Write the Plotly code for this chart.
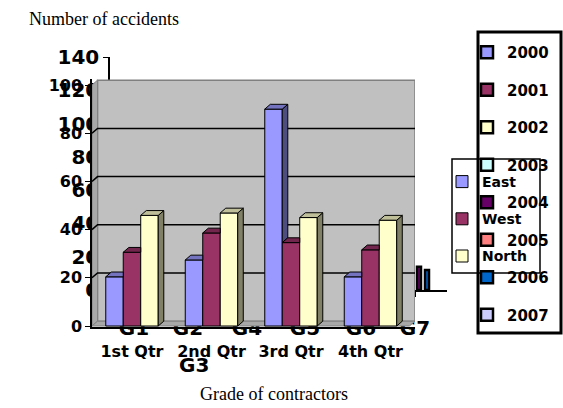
import plotly.graph_objects as go

# ---------------- data ----------------
quarters = ["1st Qtr", "2nd Qtr", "3rd Qtr", "4th Qtr"]
east = [20.4, 27.4, 90, 20.4]
west = [30.6, 38.6, 34.6, 31.6]
north = [45.9, 46.9, 45, 43.9]
series_names = ["East", "West", "North"]
series_values = [east, west, north]
series_colors = ["#9999FF", "#993366", "#FFFFCC"]
side_colors = ["#4D4D80", "#4D1933", "#808066"]
top_colors = ["#7373BF", "#73264D", "#BFBF99"]
qtr_ticks = [0, 20, 40, 60, 80, 100]

grades = ["G1", "G2", "G3", "G4", "G5", "G6", "G7"]
accident_ticks = [0, 20, 40, 60, 80, 100, 120, 140]
years = ["2000", "2001", "2002", "2003", "2004", "2005", "2006", "2007"]
year_colors = ["#9999FF", "#993366", "#FFFFCC", "#CCFFFF",
               "#660066", "#FF8080", "#0066CC", "#CCCCFF"]
# only the G7 group of the hidden chart peeks out; others hidden
year_g7 = [None, None, None, None, 14, None, 12, None]

# ---------------- layout helpers (pixels of the 563x408 page) ----------------
W, H = 563, 408
FONT_B = "DejaVu Sans"
grade_px = [134, 188, 194, 247, 305, 361, 415]   # label centres (G3 drops a line)

fig = go.Figure()

# ---- hidden "accidents" chart (background subplot x/y) ----
g7 = grade_px[6]
bw = 4
for i, (yr, col, v) in enumerate(zip(years, year_colors, year_g7)):
    fig.add_trace(go.Bar(
        x=[g7], y=[v], name=yr, width=bw, offset=-14 + bw * i,
        marker=dict(color=col, line=dict(color="black", width=2.5)),
        xaxis="x", yaxis="y", legend="legend2", legendgroup=yr,
        hoverinfo="skip"))

# ---- foreground 3-D column chart (x2/y2) ----
bar_w = 0.22
dx, dy = 0.07, 2.0
for i, (name, vals, col) in enumerate(zip(series_names, series_values, series_colors)):
    fig.add_trace(go.Bar(
        x=list(range(len(quarters))), y=vals, name=name,
        width=bar_w, offset=(i - 1.5) * bar_w,
        marker=dict(color=col, line=dict(color="black", width=1)),
        xaxis="x2", yaxis="y2", legend="legend", legendgroup=name,
        hoverinfo="skip"))

# side / top faces computed from the data values
for j in range(len(quarters)):
    for i in range(3):
        v = series_values[i][j]
        L = j + (i - 1.5) * bar_w
        R = L + bar_w
        nxt = series_values[i + 1][j] if i < 2 else None
        y0 = 0 if nxt is None else min(v, nxt)
        if v - y0 > 0:
            fig.add_trace(go.Scatter(
                x=[R, R, R + dx, R + dx, R], y=[y0, v, v + dy, y0 + dy, y0],
                mode="lines", fill="toself", fillcolor=side_colors[i],
                line=dict(color="black", width=1), showlegend=False,
                hoverinfo="skip", xaxis="x2", yaxis="y2"))
        if nxt is not None and nxt >= v + dy:
            tx = [L, R, R, L + dx, L]
        else:
            tx = [L, R, R + dx, L + dx, L]
        ty = [v, v, v + dy, v + dy, v]
        fig.add_trace(go.Scatter(
            x=tx, y=ty, mode="lines", fill="toself", fillcolor=top_colors[i],
            line=dict(color="black", width=1), showlegend=False,
            hoverinfo="skip", xaxis="x2", yaxis="y2"))

# ---- 3-D walls, floor and gridlines (shapes in x2/y2 data space) ----
xl, xr = -0.503, 3.56
ytop = qtr_ticks[-1]
shapes = [
    dict(type="rect", xref="x2", yref="y2", x0=xl + dx, x1=xr, y0=dy, y1=ytop + dy,
         fillcolor="#C0C0C0", line=dict(color="#808080", width=1.5), layer="below"),
    dict(type="path", xref="x2", yref="y2",
         path=f"M{xl},0 L{xl+dx},{dy} L{xl+dx},{ytop+dy} L{xl},{ytop} Z",
         fillcolor="#A8A8A8", line=dict(color="#808080", width=1), layer="below"),
    dict(type="path", xref="x2", yref="y2",
         path=f"M{xl},0 L{xr-dx},0 L{xr},{dy} L{xl+dx},{dy} Z",
         fillcolor="#A8A8A8", line=dict(color="#808080", width=1), layer="below"),
]
for t in qtr_ticks[1:-1]:
    shapes.append(dict(type="path", xref="x2", yref="y2",
                       path=f"M{xl},{t} L{xl+dx},{t+dy} L{xr},{t+dy}",
                       line=dict(color="black", width=1.5), layer="below"))
# legend boxes
shapes.append(dict(type="rect", xref="paper", yref="paper",
                   x0=452 / W, x1=540 / W, y0=1 - 273 / H, y1=1 - 159 / H,
                   line=dict(color="black", width=1.5)))
shapes.append(dict(type="rect", xref="paper", yref="paper",
                   x0=478 / W, x1=561 / W, y0=1 - 333 / H, y1=1 - 32 / H,
                   line=dict(color="black", width=3)))

annotations = [
    dict(text="Number of accidents", x=104 / W, y=1 - 19 / H, xref="paper", yref="paper",
         xanchor="center", yanchor="middle", showarrow=False,
         font=dict(family="Liberation Serif", size=18, color="black")),
    dict(text="Grade of contractors", x=274 / W, y=1 - 394 / H, xref="paper", yref="paper",
         xanchor="center", yanchor="middle", showarrow=False,
         font=dict(family="Liberation Serif", size=18, color="black")),
    dict(text=grades[2], x=grade_px[2] / W, y=1 - 365 / H, xref="paper", yref="paper",
         xanchor="center", yanchor="middle", showarrow=False,
         font=dict(family=FONT_B, size=20, weight="bold", color="black")),
]

other_idx = [k for k in range(7) if k != 2]
fig.update_layout(
    width=W, height=H, autosize=False,
    margin=dict(l=0, r=0, t=0, b=0),
    paper_bgcolor="white", plot_bgcolor="rgba(0,0,0,0)",
    barmode="overlay", showlegend=True,
    xaxis=dict(domain=[110 / W, 447 / W], range=[110, 447], anchor="y",
               tickvals=[grade_px[k] for k in other_idx],
               ticktext=[grades[k] for k in other_idx],
               showline=True, linecolor="black", linewidth=1.5,
               ticks="outside", ticklen=5, tickcolor="black",
               tickfont=dict(family=FONT_B, size=20, weight="bold", color="black"),
               ticklabelstandoff=14,
               showgrid=False, zeroline=False, automargin=False, fixedrange=True),
    yaxis=dict(domain=[1 - 290 / H, 1 - 57 / H], range=[0, 140], anchor="x",
               tickvals=accident_ticks,
               showline=True, linecolor="black", linewidth=1.5,
               ticks="outside", ticklen=5, tickcolor="black",
               tickfont=dict(family=FONT_B, size=20, weight="bold", color="black"),
               showgrid=False, zeroline=False, automargin=False, fixedrange=True),
    xaxis2=dict(domain=[92 / W, 415 / W], range=[xl, xr], anchor="y2",
                tickvals=list(range(len(quarters))), ticktext=quarters,
                showline=True, linecolor="black", linewidth=1.5, ticks="",
                tickfont=dict(family=FONT_B, size=16, weight="bold", color="black"),
                ticklabelstandoff=9,
                showgrid=False, zeroline=False, automargin=False, fixedrange=True),
    yaxis2=dict(domain=[1 - 327.2 / H, 1 - 79 / H], range=[-0.5, 102.5], anchor="x2",
                tickvals=qtr_ticks,
                showline=True, linecolor="black", linewidth=1.5,
                ticks="outside", ticklen=5, tickcolor="black",
                tickfont=dict(family=FONT_B, size=16, weight="bold", color="black"),
                showgrid=False, zeroline=False, automargin=False, fixedrange=True),
    legend=dict(x=442 / W, y=1 - 166 / H, xanchor="left", yanchor="top",
                bgcolor="rgba(0,0,0,0)", borderwidth=0, tracegroupgap=16,
                font=dict(family=FONT_B, size=14, weight="bold", color="black")),
    legend2=dict(x=467 / W, y=1 - 36 / H, xanchor="left", yanchor="top",
                 bgcolor="rgba(0,0,0,0)", borderwidth=0, tracegroupgap=15,
                 font=dict(family=FONT_B, size=15, weight="bold", color="black")),
    shapes=shapes, annotations=annotations,
)

fig.write_html("out.html", config={"displayModeBar": False},
               post_script="document.body.style.margin='0';document.body.style.overflow='hidden';")
